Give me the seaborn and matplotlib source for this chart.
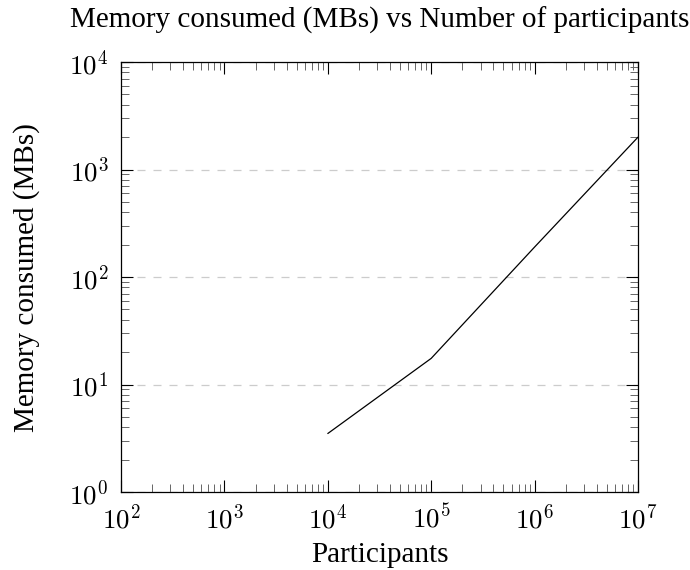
import matplotlib
matplotlib.use("Agg")
import matplotlib.pyplot as plt
import seaborn as sns
import pandas as pd
from matplotlib.ticker import LogLocator, FixedFormatter, NullFormatter, FixedLocator

participants = [1e4, 1e5, 1e6, 1e7]
memory_mb = [3.5, 17.5, 190, 2000]
x_ticks = [1e2, 1e3, 1e4, 1e5, 1e6, 1e7]
x_tick_labels = [r"$10^{2}$", r"$10^{3}$", r"$10^{4}$", r"$10^{5}$", r"$10^{6}$", r"$10^{7}$"]
y_ticks = [1e0, 1e1, 1e2, 1e3, 1e4]
y_tick_labels = [r"$10^{0}$", r"$10^{1}$", r"$10^{2}$", r"$10^{3}$", r"$10^{4}$"]

sns.set_theme(style="white")
plt.rcParams["font.family"] = ["Liberation Serif", "DejaVu Serif"]
plt.rcParams["mathtext.fontset"] = "cm"
plt.rcParams["text.color"] = "black"
plt.rcParams["axes.labelcolor"] = "black"

df = pd.DataFrame({"Participants": participants, "Memory": memory_mb})

W, H = 690, 570
fig = plt.figure(figsize=(6.9, 5.7), dpi=100)
ax = fig.add_axes([121/W, 1-492/H, (638-121)/W, (492-62)/H])

sns.lineplot(data=df, x="Participants", y="Memory", ax=ax, color="black", linewidth=0.9)

ax.set_xscale("log")
ax.set_yscale("log")
ax.set_xlim(1e2, 1e7)
ax.set_ylim(1e0, 1e4)

ax.xaxis.set_major_locator(FixedLocator(x_ticks))
ax.xaxis.set_major_formatter(FixedFormatter(x_tick_labels))
ax.yaxis.set_major_locator(FixedLocator(y_ticks))
ax.yaxis.set_major_formatter(FixedFormatter(y_tick_labels))
ax.xaxis.set_minor_locator(LogLocator(base=10, subs=range(2, 10), numticks=20))
ax.yaxis.set_minor_locator(LogLocator(base=10, subs=range(2, 10), numticks=20))
ax.xaxis.set_minor_formatter(NullFormatter())
ax.yaxis.set_minor_formatter(NullFormatter())

ax.tick_params(which="both", direction="in", top=True, right=True, bottom=True, left=True,
               labelsize=19.5, labelcolor="black")
ax.tick_params(which="major", length=8.5, width=0.8, color="black")
ax.tick_params(axis="x", which="major", pad=9)
ax.tick_params(axis="y", which="major", pad=9)
ax.tick_params(which="minor", length=5.5, width=0.7, color="#666666")

for s in ax.spines.values():
    s.set_color("black")
    s.set_linewidth(0.9)

ax.yaxis.grid(True, which="major", linestyle=(0, (6.4, 6.4)), color="#cccccc", linewidth=0.9)
ax.xaxis.grid(False)
ax.set_axisbelow(True)

ax.set_xlabel("")
ax.set_ylabel("")
fig.text(379.5/W, 1-562/H, "Participants", ha="center", va="baseline", fontsize=21)
fig.text(27/W, 1-277.5/H, "Memory consumed (MBs)", ha="center", va="center",
         rotation=90, fontsize=21)
fig.text(379.5/W, 1-28/H, "Memory consumed (MBs) vs Number of participants",
         ha="center", va="baseline", fontsize=21)

fig.savefig("out.png", dpi=100)
